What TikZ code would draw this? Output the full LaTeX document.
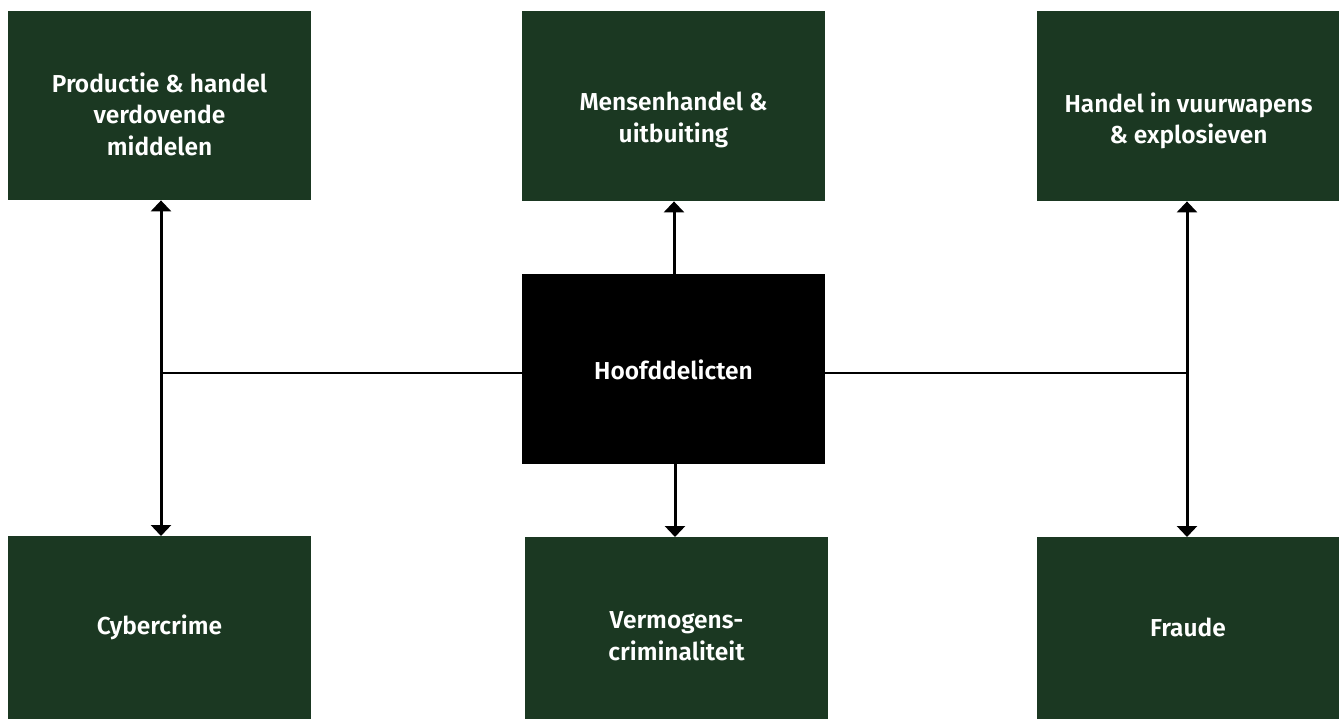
\documentclass[tikz,border=0pt]{standalone}
\usepackage{fontspec}
\setmainfont{Fira Sans}[BoldFont={Fira Sans SemiBold}]
\usetikzlibrary{arrows.meta}
\definecolor{boxgreen}{HTML}{1B3822}
\tikzset{
  gbox/.style={fill=boxgreen, draw=none, inner sep=0pt, anchor=north west},
  hubbox/.style={fill=black, draw=none, inner sep=0pt, anchor=north west},
  lbl/.style={text=white, font=\fontsize{24.5}{31.5}\selectfont\bfseries, align=center, inner sep=0pt},
  vlink/.style={line width=3pt, -{Triangle[width=20pt,length=11pt]}},
  vlink2/.style={line width=3pt, {Triangle[width=20pt,length=11pt]}-{Triangle[width=20pt,length=11pt]}},
  hlink/.style={line width=2pt}
}
\begin{document}
\begin{tikzpicture}[x=1pt,y=-1pt]
\useasboundingbox (0,0) rectangle (1342,719);
% boxes
\node[gbox, minimum width=303pt, minimum height=189pt] (tl) at (8,11) {};
\node[gbox, minimum width=303pt, minimum height=190pt] (tm) at (522,11) {};
\node[gbox, minimum width=302pt, minimum height=190pt] (tr) at (1037,11) {};
\node[hubbox, minimum width=303pt, minimum height=190pt] (hub) at (522,274) {};
\node[gbox, minimum width=303pt, minimum height=183pt] (bl) at (8,536) {};
\node[gbox, minimum width=303pt, minimum height=182pt] (bm) at (525,537) {};
\node[gbox, minimum width=302pt, minimum height=182pt] (br) at (1037,537) {};
% labels
\node[lbl] (tlt) at (159.5,114) {Productie \& handel\\verdovende\\middelen};
\node[lbl] (tmt) at (673.5,120) {Mensenhandel \&\\uitbuiting};
\node[lbl] (trt) at (1188.5,121) {Handel in vuurwapens\\\& explosieven};
\node[lbl] (hubt) at (673.5,370) {Hoofddelicten};
\node[lbl] (blt) at (159.5,627) {Cybercrime};
\node[lbl] (bmt) at (676.5,636) {Vermogens-\\criminaliteit};
\node[lbl] (brt) at (1188,627) {Fraude};
% junction coordinates
\coordinate (lv) at (161,373);
\coordinate (rv) at (1187,373);
\coordinate (ut) at (674,274);
\coordinate (ub) at (675,464);
% connectors
\draw[vlink2] (lv |- tl.south) -- (lv |- bl.north);
\draw[vlink2] (rv |- tr.south) -- (rv |- br.north);
\draw[hlink] (hub.west |- lv) -- (lv);
\draw[hlink] (hub.east |- rv) -- (rv);
\draw[vlink] (ut) -- (ut |- tm.south);
\draw[vlink] (ub) -- (ub |- bm.north);
\end{tikzpicture}
\end{document}
